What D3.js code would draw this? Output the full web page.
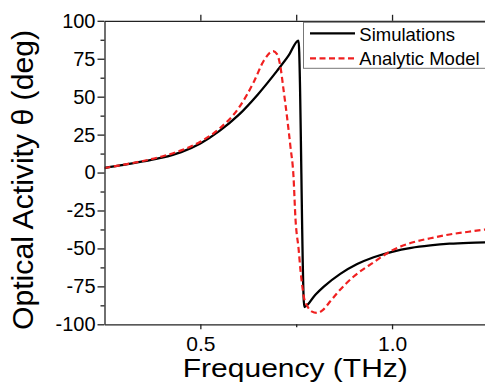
<!DOCTYPE html>
<html>
<head>
<meta charset="utf-8">
<script src="https://cdn.jsdelivr.net/npm/d3@7"></script>
<style>
  html, body { margin: 0; padding: 0; background: #fff; }
  svg { display: block; font-family: "Liberation Sans", Arial, sans-serif; }
</style>
</head>
<body>
<svg id="chart" width="485" height="383"></svg>
<script>
// ---- data ----
const simFreq = [0.25, 0.30, 0.35, 0.40, 0.45, 0.50, 0.55, 0.60, 0.65, 0.70, 0.73, 0.756,
                 0.771, 0.80, 0.822, 0.865, 0.909, 0.952, 1.00, 1.05, 1.10, 1.15, 1.20, 1.25];
const simValues = [3.0, 5.0, 7.3, 9.8, 13.5, 19.2, 27.5, 38.0, 51.5, 67.0, 77.0, 87.0,
                   -88.6, -80.5, -75.2, -66.8, -60.3, -55.8, -52.2, -49.6, -48.0, -46.9, -46.3, -46.0];

const modelFreq = [0.25, 0.30, 0.35, 0.40, 0.45, 0.50, 0.55, 0.60, 0.64, 0.665, 0.69, 0.70, 0.708,
                   0.717, 0.726, 0.735, 0.743, 0.748, 0.7565, 0.761, 0.765, 0.770, 0.78, 0.79, 0.804,
                   0.82, 0.84, 0.86, 0.90, 0.95, 1.00, 1.05, 1.10, 1.15, 1.20, 1.25];
const modelValues = [3.0, 5.2, 7.6, 10.6, 14.6, 20.3, 29.0, 42.5, 60.0, 73.5, 80.0, 78.0, 71.0,
                     54.5, 36.8, 17.0, -2.8, -30.0, -51.0, -64.0, -73.0, -82.0, -88.5, -91.5, -92.5,
                     -90.5, -84.5, -78.5, -68.5, -59.5, -51.3, -46.3, -43.3, -40.8, -39.0, -37.3];

const seriesNames = ["Simulations", "Analytic Model"];
const xMajorTicks = [0.5, 1.0];
const xMinorTicks = [0.75];
const yMajorTicks = [-100, -75, -50, -25, 0, 25, 50, 75, 100];
const yMinorTicks = [-87.5, -62.5, -37.5, -12.5, 12.5, 37.5, 62.5, 87.5];
const xTitle = "Frequency (THz)";
const yTitle = "Optical Activity θ (deg)";

(function () {
// ---- layout ----
const svg = d3.select("#chart");
const pLeft = 104.5, pRight = 487.9, pTop = 20.8, pBottom = 324.3;
const x = d3.scaleLinear().domain([0.25, 1.25]).range([pLeft, pRight]);
const y = d3.scaleLinear().domain([-100, 100]).range([pBottom, pTop]);
const axisColor = "#222";

svg.append("defs").append("clipPath").attr("id", "clip")
  .append("rect").attr("x", pLeft).attr("y", pTop).attr("width", pRight - pLeft).attr("height", pBottom - pTop);

// curves
const simData = simFreq.map((f, i) => [f, simValues[i]]);
const modelData = modelFreq.map((f, i) => [f, modelValues[i]]);
const line = d3.line().x(d => x(d[0])).y(d => y(d[1])).curve(d3.curveMonotoneX);

const plot = svg.append("g").attr("clip-path", "url(#clip)");
plot.append("path").datum(simData).attr("d", line)
  .attr("fill", "none").attr("stroke", "#000").attr("stroke-width", 2.3).attr("stroke-linejoin", "miter");
plot.append("path").datum(modelData).attr("d", line)
  .attr("fill", "none").attr("stroke", "#f02020").attr("stroke-width", 2.2)
  .attr("stroke-dasharray", "6,3.5");

// axes
function styleAxis(g) {
  g.selectAll("path.domain").attr("stroke", axisColor).attr("stroke-width", 1.3);
  g.selectAll(".tick line").attr("stroke", axisColor).attr("stroke-width", 1.3);
  g.selectAll(".tick text").attr("fill", "#000").attr("font-family", "Liberation Sans, Arial, sans-serif");
}

const gLeft = svg.append("g").attr("transform", `translate(${pLeft},0)`)
  .call(d3.axisLeft(y).tickValues(yMajorTicks).tickSize(7).tickSizeOuter(0).tickPadding(2)
        .tickFormat(d => String(d)));
gLeft.selectAll(".tick text").attr("font-size", 20);
styleAxis(gLeft);
const gLeftMinor = svg.append("g").attr("transform", `translate(${pLeft},0)`)
  .call(d3.axisLeft(y).tickValues(yMinorTicks).tickSize(4).tickSizeOuter(0).tickFormat(""));
gLeftMinor.select("path.domain").remove();
styleAxis(gLeftMinor);

const gBottom = svg.append("g").attr("transform", `translate(0,${pBottom})`)
  .call(d3.axisBottom(x).tickValues(xMajorTicks).tickSize(5).tickSizeOuter(0).tickPadding(7)
        .tickFormat(d3.format(".1f")));
gBottom.selectAll(".tick text").attr("font-size", 21);
styleAxis(gBottom);
const gBottomMinor = svg.append("g").attr("transform", `translate(0,${pBottom})`)
  .call(d3.axisBottom(x).tickValues(xMinorTicks).tickSize(3).tickSizeOuter(0).tickFormat(""));
gBottomMinor.select("path.domain").remove();
styleAxis(gBottomMinor);

const gTop = svg.append("g").attr("transform", `translate(0,${pTop})`)
  .call(d3.axisTop(x).tickValues(xMajorTicks.concat(xMinorTicks)).tickSize(6).tickSizeOuter(0).tickFormat(""));
styleAxis(gTop);

const gRight = svg.append("g").attr("transform", `translate(${pRight},0)`)
  .call(d3.axisRight(y).tickValues(yMajorTicks).tickSize(6).tickSizeOuter(0).tickFormat(""));
styleAxis(gRight);

// titles
svg.append("text").attr("x", 295.3).attr("y", 377).attr("text-anchor", "middle")
  .attr("font-size", 26).attr("textLength", 225).attr("lengthAdjust", "spacingAndGlyphs")
  .attr("fill", "#000").text(xTitle);
svg.append("text").attr("transform", "translate(33,180) rotate(-90)").attr("text-anchor", "middle")
  .attr("font-size", 29).attr("textLength", 300).attr("lengthAdjust", "spacingAndGlyphs")
  .attr("fill", "#000").text(yTitle);

// legend
const lg = svg.append("g");
lg.append("rect").attr("x", 303.5).attr("y", 22.3).attr("width", 200).attr("height", 46)
  .attr("fill", "#fff").attr("stroke", "#777").attr("stroke-width", 1);
const legendRows = [
  { name: seriesNames[0], color: "#000", dash: null, w: 2.3, ly: 33.3, ty: 41 },
  { name: seriesNames[1], color: "#f02020", dash: "6,3.5", w: 2.2, ly: 58.3, ty: 65 }
];
legendRows.forEach(r => {
  lg.append("line").attr("x1", 310).attr("x2", 355).attr("y1", r.ly).attr("y2", r.ly)
    .attr("stroke", r.color).attr("stroke-width", r.w).attr("stroke-dasharray", r.dash);
  lg.append("text").attr("x", 359.3).attr("y", r.ty).attr("font-size", 18.5).attr("fill", "#000").text(r.name);
});
})();
</script>
</body>
</html>
